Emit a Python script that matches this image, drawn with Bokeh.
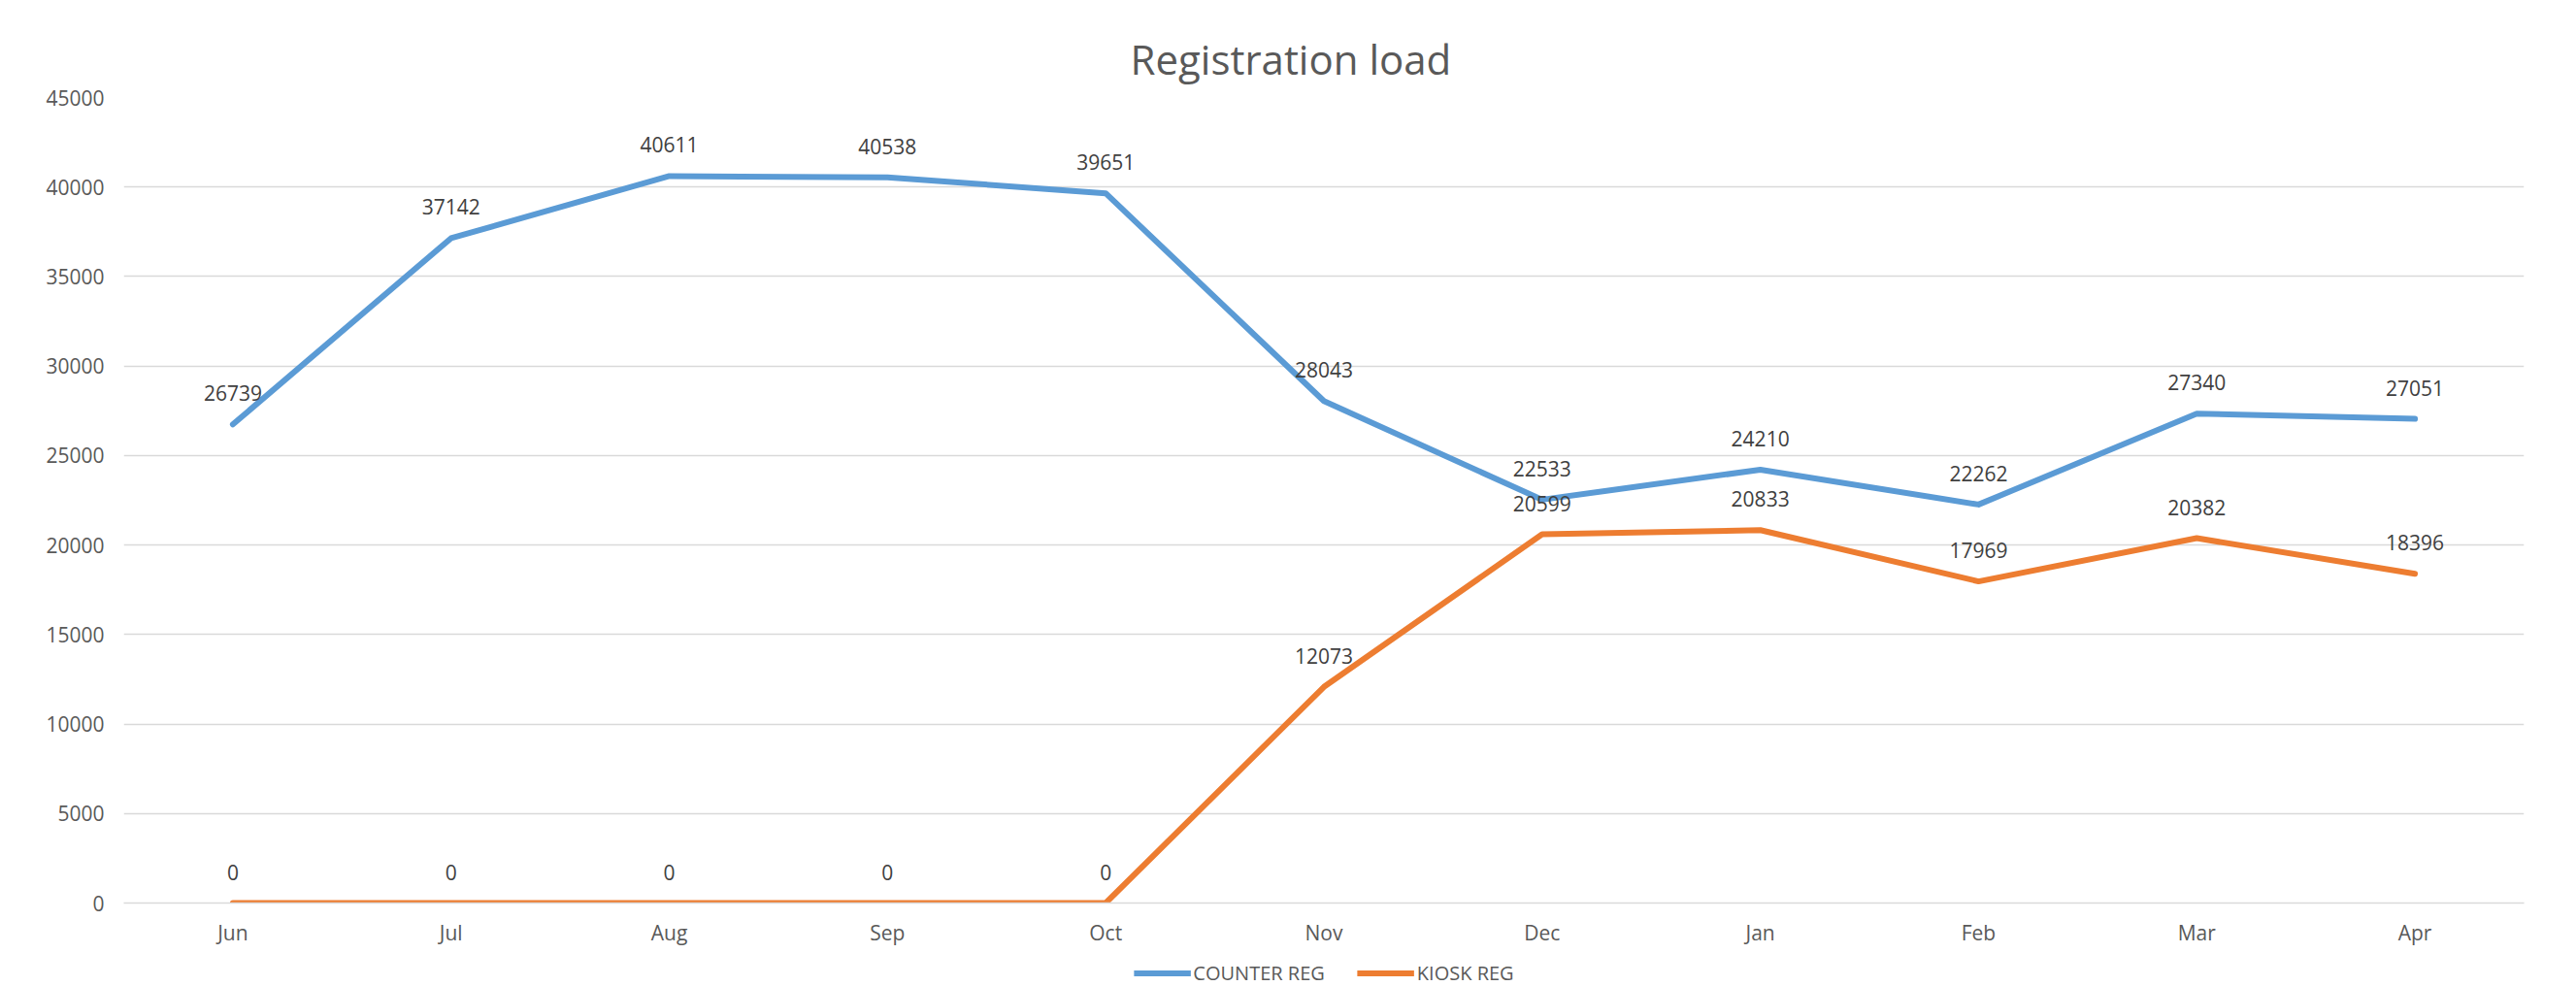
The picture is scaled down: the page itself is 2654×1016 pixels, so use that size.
from bokeh.plotting import figure
from bokeh.layouts import column
from bokeh.models import (ColumnDataSource, FactorRange, Range1d, FixedTicker, LabelSet,
                          Legend, LegendItem)
from bokeh.core.properties import value
from bokeh.embed import file_html
from bokeh.resources import INLINE

months = ["Jun", "Jul", "Aug", "Sep", "Oct", "Nov", "Dec", "Jan", "Feb", "Mar", "Apr"]
counter_reg = [26739, 37142, 40611, 40538, 39651, 28043, 22533, 24210, 22262, 27340, 27051]
kiosk_reg = [0, 0, 0, 0, 0, 12073, 20599, 20833, 17969, 20382, 18396]
y_ticks = [0, 5000, 10000, 15000, 20000, 25000, 30000, 35000, 40000, 45000]
title_text = "Registration load"
series_names = ["COUNTER REG", "KIOSK REG"]

BLUE = "#5B9BD5"
ORANGE = "#ED7D31"
FONT = "Open Sans"

W = 2638
LEFT, TOP, RIGHT = 127, 100, 38
FRAME_W, FRAME_H = 2473, 830
H_MAIN = 988
H_LEG = 28
y_max = y_ticks[-1]

p = figure(width=W, height=H_MAIN, output_backend="svg", toolbar_location=None,
           x_range=FactorRange(*months, range_padding=0),
           y_range=Range1d(0, y_max),
           min_border_left=LEFT, min_border_right=RIGHT,
           min_border_top=TOP, min_border_bottom=H_MAIN - TOP - FRAME_H)
p.outline_line_color = None
p.background_fill_color = "white"
p.border_fill_color = "white"

# title
p.title.text = title_text
p.title.align = "left"
p.title.offset = 1037
p.title.text_font = FONT
p.title.text_font_size = "42px"
p.title.text_font_style = "normal"
p.title.text_color = "#595959"
p.title.standoff = 23

# grid
p.xgrid.grid_line_color = None
p.ygrid.grid_line_color = "#d9d9d9"
p.ygrid.grid_line_width = 1.5
p.yaxis.ticker = FixedTicker(ticks=y_ticks)

# axes
for ax in (p.xaxis[0], p.yaxis[0]):
    ax.major_tick_line_color = None
    ax.minor_tick_line_color = None
    ax.major_tick_out = 0
    ax.major_tick_in = 0
    ax.major_label_text_font = FONT
    ax.major_label_text_font_size = "21px"
    ax.major_label_text_color = "#595959"
p.yaxis.axis_line_color = None
p.yaxis.major_label_standoff = 20
p.xaxis.axis_line_color = "#d9d9d9"
p.xaxis.axis_line_width = 1.5
p.xaxis.major_label_standoff = 16

src_c = ColumnDataSource(dict(x=months, y=counter_reg, t=[str(v) for v in counter_reg]))
src_k = ColumnDataSource(dict(x=months, y=kiosk_reg, t=[str(v) for v in kiosk_reg]))

p.line("x", "y", source=src_c, line_color=BLUE, line_width=6,
       line_cap="round", line_join="round")
p.line("x", "y", source=src_k, line_color=ORANGE, line_width=6,
       line_cap="round", line_join="round")

for src in (src_c, src_k):
    p.add_layout(LabelSet(x="x", y="y", text="t", source=src, y_offset=32,
                          text_align="center", text_baseline="middle",
                          text_font=value(FONT), text_font_size=value("21px"),
                          text_color="#404040"))

# legend strip below the chart (series drawn out of view, only their swatches show)
pl = figure(width=W, height=H_LEG, output_backend="svg", toolbar_location=None,
            x_range=FactorRange(*months), y_range=Range1d(-2, -1),
            x_axis_location=None, y_axis_location=None, min_border=0)
pl.outline_line_color = None
pl.grid.visible = False
lr_c = pl.line("x", "y", source=src_c, line_color=BLUE, line_width=6)
lr_k = pl.line("x", "y", source=src_k, line_color=ORANGE, line_width=6)
legend = Legend(items=[LegendItem(label=series_names[0], renderers=[lr_c]),
                       LegendItem(label=series_names[1], renderers=[lr_k])],
                location="center", orientation="horizontal",
                padding=0, margin=0, spacing=33, glyph_width=59, glyph_height=16,
                label_height=16, label_standoff=3, label_text_font=FONT,
                label_text_font_size="20px", label_text_color="#595959",
                border_line_color=None, background_fill_alpha=0)
pl.add_layout(legend, "center")

open("out.html", "w").write(file_html(column(p, pl, spacing=0), INLINE))
